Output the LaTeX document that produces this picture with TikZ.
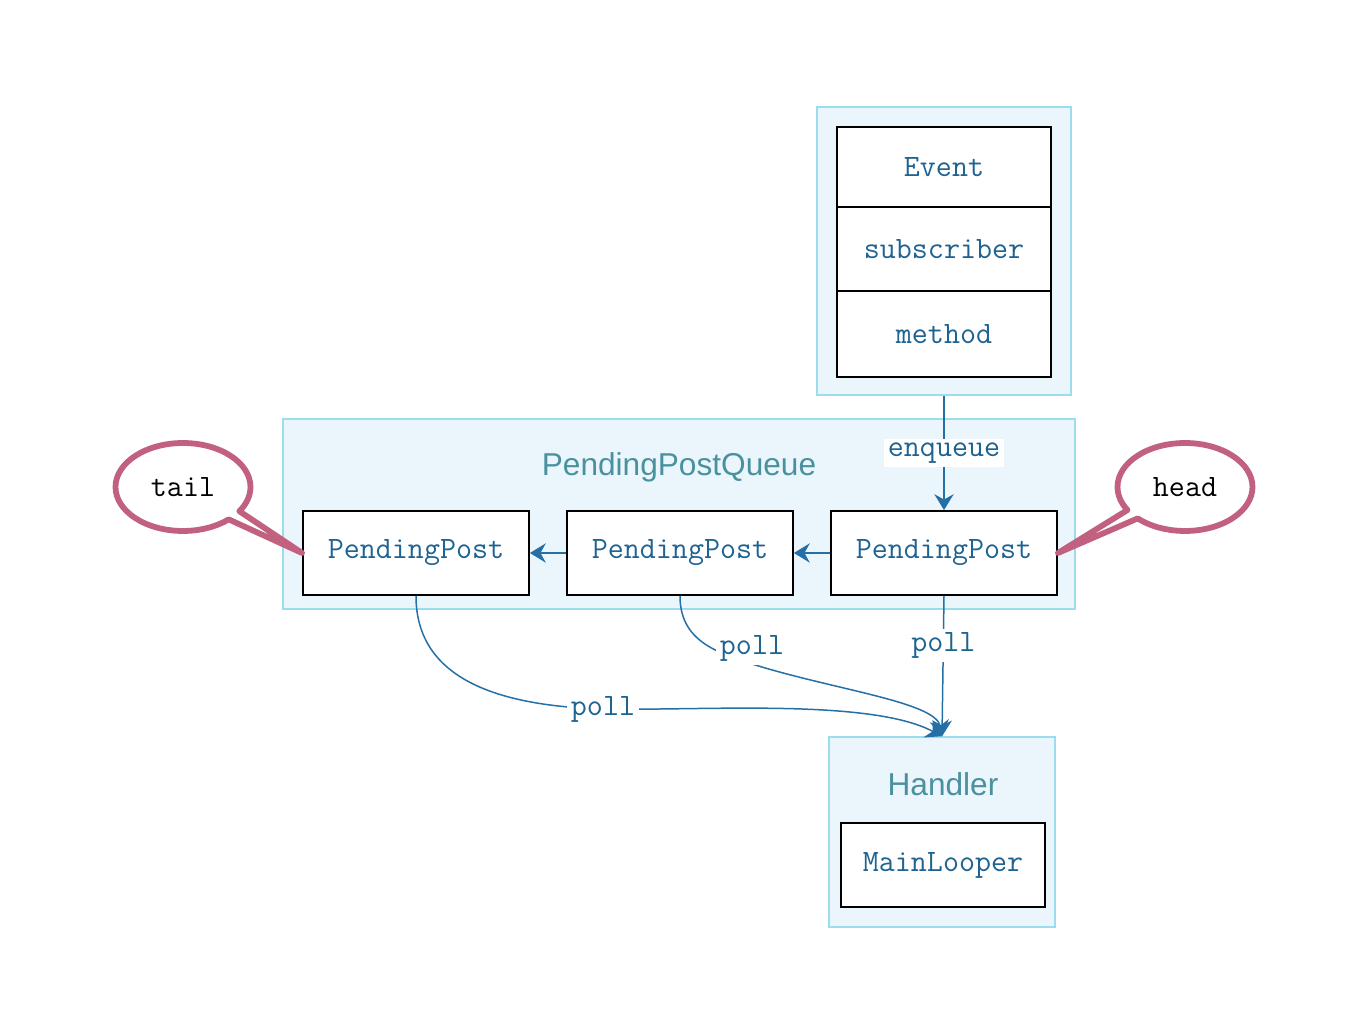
\documentclass[tikz,border=0pt]{standalone}
\usepackage{fontspec}
\newfontfamily\titlefont{Liberation Sans}
\usetikzlibrary{shapes.callouts,arrows.meta}
\definecolor{panelfill}{HTML}{EBF6FC}
\definecolor{paneledge}{HTML}{9CDCEF}
\definecolor{textblue}{HTML}{1F6391}
\definecolor{arrowblue}{HTML}{2470A6}
\definecolor{titleteal}{HTML}{4A91A0}
\definecolor{bubblepink}{HTML}{C2617F}
\tikzset{
  panel/.style={draw=paneledge, fill=panelfill, line width=0.85pt, inner sep=0pt},
  box/.style={draw=black, fill=white, line width=1.1pt, minimum width=4.52cm,
    minimum height=1.68cm, inner sep=0pt, text=textblue,
    font=\ttfamily\fontsize{17.7}{20}\selectfont},
  paneltitle/.style={text=titleteal, font=\titlefont\fontsize{18}{21}\selectfont},
  lbl/.style={fill=white, text=textblue, inner sep=2pt,
    font=\ttfamily\fontsize{17.7}{20}\selectfont},
  flow/.style={draw=arrowblue, line width=0.85pt,
    -{Stealth[length=9pt,width=11pt,inset=3pt]}},
  bubble/.style={ellipse callout, draw=bubblepink, fill=white, line width=3.3pt,
    line join=round, callout pointer arc=14, minimum width=2.7cm,
    minimum height=1.76cm, inner sep=0pt,
    font=\ttfamily\fontsize{17.7}{20}\selectfont}
}
\begin{document}
\begin{tikzpicture}[x=0.02cm, y=-0.02cm]
	\useasboundingbox (0,0) rectangle (1360,1026);
	% event
	\node[panel, minimum width=5.08cm, minimum height=5.76cm] (top) at (944,251) {};
	\node[box, minimum width=4.28cm, minimum height=1.6cm] (ev) at (944,167) {Event};
	\node[box, minimum width=4.28cm, minimum height=1.68cm] (sub) at (944,249) {subscriber};
	\node[box, minimum width=4.28cm, minimum height=1.72cm] (meth) at (944,334) {method};
	% queue
	\node[panel, minimum width=15.84cm, minimum height=3.8cm] (queue) at (679,514) {};
	\node[paneltitle] (qtitle) at (679,467) {PendingPostQueue};
	\foreach \i/\x in {1/416,2/680,3/944}{
		\node[box] (p\i) at (\x,553) {PendingPost};
	}
	\draw[flow] (p3) -- (p2);
	\draw[flow] (p2) -- (p1);
	% handler
	\node[panel, minimum width=4.52cm, minimum height=3.8cm] (hd) at (942,832) {};
	\node[paneltitle] (htitle) at (943,784) {Handler};
	\node[box, minimum width=4.08cm] (loop) at (943,865) {MainLooper};
	% edges
	\draw[flow] (top.south) -- node[lbl, pos=0.5] {enqueue} (p3.north);
	\draw[flow] (p3.south) -- node[lbl, pos=0.35] {poll} (hd.north);
	\draw[flow] (p2.south) .. controls (680,640) and (715,652) .. (752,664)
		node[lbl, yshift=9pt] {poll}
		.. controls (835,690) and (936,702) .. (hd.north);
	\draw[flow] (p1.south) .. controls (416,680) and (500,706) .. (603,709)
		node[lbl] {poll}
		.. controls (700,711) and (870,698) .. (hd.north);
	% pointers
	\node[bubble, callout absolute pointer={(p1.west)}] (tail) at (183,487) {tail};
	\node[bubble, callout absolute pointer={(p3.east)}] (head) at (1185,487) {head};
\end{tikzpicture}
\end{document}
